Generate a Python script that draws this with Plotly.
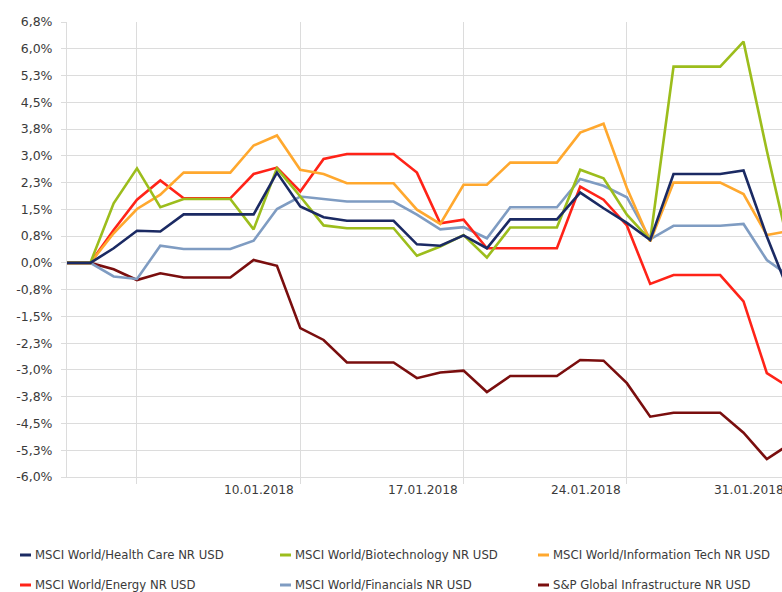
import plotly.graph_objects as go
import pandas as pd

# ---------------- data ----------------
DATES = pd.date_range("2017-12-31", "2018-01-31", freq="D").strftime("%Y-%m-%d").tolist()

HEALTH_CARE = [0, 0, 0.41, 0.90, 0.88, 1.36, 1.36, 1.36, 1.36, 2.53, 1.58, 1.28, 1.18, 1.18, 1.18, 0.52,
               0.48, 0.77, 0.41, 1.22, 1.22, 1.22, 1.97, 1.53, 1.12, 0.64, 2.49, 2.49, 2.49, 2.59, 0.74, -0.90]
BIOTECH = [0, 0, 1.67, 2.65, 1.56, 1.79, 1.79, 1.79, 0.94, 2.65, 1.86, 1.05, 0.97, 0.97, 0.97, 0.20,
           0.46, 0.78, 0.15, 0.99, 0.99, 0.99, 2.61, 2.37, 1.35, 0.64, 5.50, 5.50, 5.50, 6.20, 3.14, 0.28]
INFO_TECH = [0, 0, 0.83, 1.51, 1.91, 2.53, 2.53, 2.53, 3.29, 3.57, 2.61, 2.49, 2.23, 2.23, 2.23, 1.49,
             1.09, 2.19, 2.19, 2.81, 2.81, 2.81, 3.65, 3.90, 2.10, 0.60, 2.25, 2.25, 2.25, 1.93, 0.78, 0.90]
ENERGY = [0, 0, 0.92, 1.77, 2.31, 1.81, 1.81, 1.81, 2.49, 2.67, 2.00, 2.91, 3.05, 3.05, 3.05, 2.53,
          1.11, 1.21, 0.41, 0.41, 0.41, 0.41, 2.14, 1.77, 1.05, -0.59, -0.34, -0.34, -0.34, -1.08, -3.09, -3.50]
FINANCIALS = [0, 0, -0.38, -0.45, 0.48, 0.39, 0.39, 0.39, 0.62, 1.51, 1.86, 1.79, 1.72, 1.72, 1.72, 1.35,
              0.94, 1.00, 0.69, 1.56, 1.56, 1.56, 2.35, 2.16, 1.84, 0.66, 1.04, 1.04, 1.04, 1.09, 0.08, -0.39]
INFRA = [0, 0, -0.18, -0.48, -0.29, -0.41, -0.41, -0.41, 0.08, -0.08, -1.83, -2.16, -2.79, -2.79, -2.79, -3.23,
         -3.07, -3.02, -3.62, -3.17, -3.17, -3.17, -2.72, -2.74, -3.37, -4.31, -4.20, -4.20, -4.20, -4.76, -5.50, -5.07]

SERIES_NAMES = ["MSCI World/Health Care NR USD", "MSCI World/Biotechnology NR USD",
                "MSCI World/Information Tech NR USD", "MSCI World/Energy NR USD",
                "MSCI World/Financials NR USD", "S&P Global Infrastructure NR USD"]
SERIES_VALUES = [HEALTH_CARE, BIOTECH, INFO_TECH, ENERGY, FINANCIALS, INFRA]
SERIES_COLORS = ["#1B2A63", "#9CBD1C", "#FFA82E", "#FF2318", "#7F9CC2", "#7A0E0E"]

Y_TICK_VALS = [6.75, 6.0, 5.25, 4.5, 3.75, 3.0, 2.25, 1.5, 0.75, 0.0,
               -0.75, -1.5, -2.25, -3.0, -3.75, -4.5, -5.25, -6.0]
Y_TICK_TEXT = ["6,8%", "6,0%", "5,3%", "4,5%", "3,8%", "3,0%", "2,3%", "1,5%", "0,8%", "0,0%",
               "-0,8%", "-1,5%", "-2,3%", "-3,0%", "-3,8%", "-4,5%", "-5,3%", "-6,0%"]

X_GRID_DATES = ["2018-01-03", "2018-01-10", "2018-01-17", "2018-01-24", "2018-01-31"]
X_TICK_LABELS = ["", "10.01.2018", "17.01.2018", "24.01.2018", "31.01.2018"]

# ---------------- figure ----------------
# page margin is removed below, so the figure fills the whole 782x592 window
W, H = 782, 592
ML, MR, MT = 67, 0, 22
PLOT_BOTTOM = 477
MB = H - PLOT_BOTTOM
x_start = pd.Timestamp("2017-12-31")
x_end = x_start + pd.Timedelta(days=30.65)

FONT = "DejaVu Sans"
TXT = "#3a3a3a"
GRID = "#dcdcdc"

fig = go.Figure()
# draw in reverse so the first series ends on top
for name, vals, col in reversed(list(zip(SERIES_NAMES, SERIES_VALUES, SERIES_COLORS))):
    fig.add_trace(go.Scatter(x=DATES, y=vals, name=name, mode="lines",
                             line=dict(color=col, width=2.6), showlegend=False))

fig.update_layout(
    width=W, height=H,
    margin=dict(l=ML, r=MR, t=MT, b=MB),
    paper_bgcolor="white", plot_bgcolor="white",
    font=dict(family=FONT, size=12.5, color=TXT),
    xaxis=dict(type="date", range=[x_start, x_end], tickmode="array", tickvals=X_GRID_DATES,
               showticklabels=False, showgrid=True, gridcolor=GRID, gridwidth=1,
               ticks="outside", ticklen=6, tickcolor=GRID, showline=True, linecolor=GRID,
               zeroline=False),
    yaxis=dict(range=[-6.0, 6.75], tickmode="array", tickvals=Y_TICK_VALS, ticktext=Y_TICK_TEXT,
               showgrid=True, gridcolor=GRID, gridwidth=1, zeroline=False,
               ticks="outside", ticklen=5, tickcolor=GRID, showline=True, linecolor=GRID,
               ticklabelstandoff=6, tickfont=dict(family=FONT, size=12.5, color=TXT)),
)

# x tick labels (right-aligned to weekly gridlines)
span = (x_end - x_start).total_seconds()
for d, lab in zip(X_GRID_DATES, X_TICK_LABELS):
    if not lab:
        continue
    frac = (pd.Timestamp(d) - x_start).total_seconds() / span
    fig.add_annotation(xref="paper", yref="paper", x=frac, y=0, xanchor="right", yanchor="middle",
                       xshift=-4, yshift=-13, text=lab, showarrow=False,
                       font=dict(family=FONT, size=12.2, color=TXT))

# legend (manual, 2 rows x 3 columns); positions in window pixels
pw, ph = W - ML - MR, H - MT - MB
col_px = [20, 280, 538]
row_py = [555, 585]
for i, (name, col) in enumerate(zip(SERIES_NAMES, SERIES_COLORS)):
    cx = col_px[i % 3]
    cy = row_py[i // 3]
    yp = (PLOT_BOTTOM - cy) / ph
    fig.add_shape(type="line", xref="paper", yref="paper",
                  x0=(cx - ML) / pw, x1=(cx + 11 - ML) / pw, y0=yp, y1=yp,
                  line=dict(color=col, width=3))
    fig.add_annotation(xref="paper", yref="paper", x=(cx + 13 - ML) / pw, y=yp,
                       xanchor="left", yanchor="middle", text=name, showarrow=False,
                       font=dict(family=FONT, size=11.7, color=TXT))

# remove the page margin and scrollbars so the figure fills the window; no modebar
fig.write_html(
    "out.html",
    config={"displayModeBar": False},
    post_script=("document.documentElement.style.overflow='hidden';"
                 "document.body.style.overflow='hidden';"
                 "document.body.style.margin='0';"),
)
